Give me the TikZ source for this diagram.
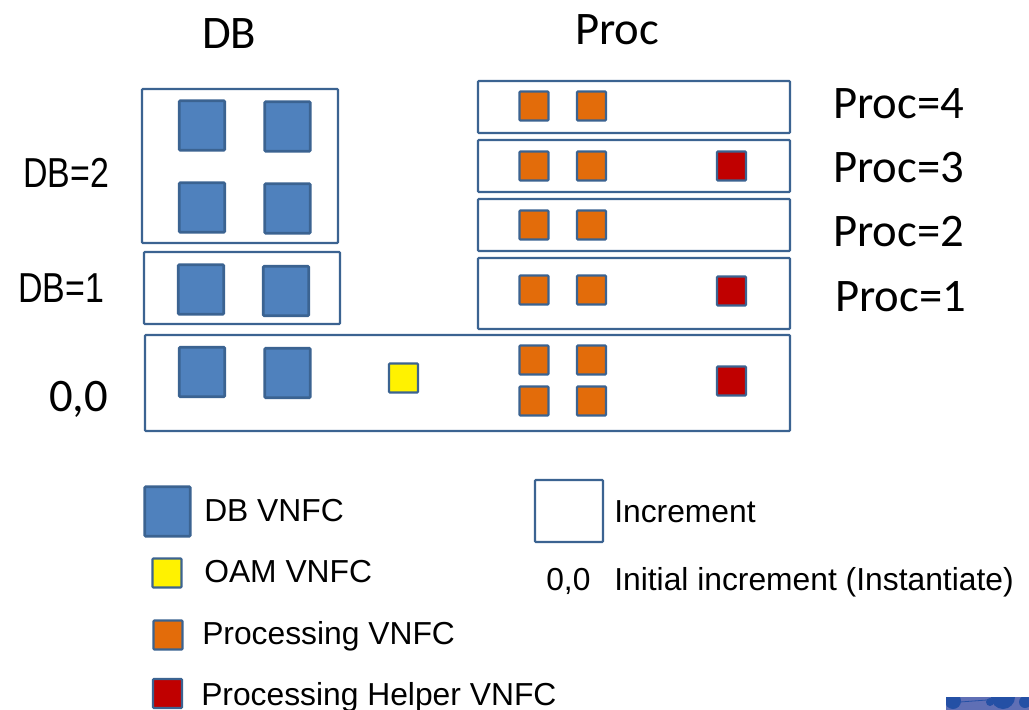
\documentclass[tikz,border=0pt]{standalone}
\usepackage{graphicx}
\usepackage{fontspec}
\setmainfont{Liberation Sans}
\newfontfamily\carl{Carlito}
\definecolor{edge}{HTML}{3B6391}
\definecolor{dbfill}{HTML}{4F81BD}
\definecolor{procfill}{HTML}{E36C0A}
\definecolor{helpfill}{HTML}{C00000}
\definecolor{logo}{HTML}{5F6FB5}
\definecolor{logodark}{HTML}{2450A5}
\tikzset{
 x=0.75pt,y=-0.75pt,
 sq/.style={draw=edge,line width=1.9pt,rounded corners=0.6pt,inner sep=0pt,outer sep=0pt},
 incr/.style={sq,line width=1.6pt,fill=white},
 db/.style={sq,fill=dbfill,minimum width=45.5*0.75pt,minimum height=49.5*0.75pt},
 oam/.style={sq,line width=1.6pt,fill=yellow,minimum width=29*0.75pt,minimum height=29*0.75pt},
 proc/.style={sq,line width=1.6pt,fill=procfill,minimum width=29*0.75pt,minimum height=29*0.75pt},
 help/.style={sq,line width=1.6pt,fill=helpfill,minimum width=29*0.75pt,minimum height=29*0.75pt},
 big/.style={inner sep=0pt,font=\carl\fontsize{35}{38}\selectfont,anchor=base west},
 mid/.style={inner sep=0pt,font=\fontsize{31.4}{34}\selectfont,anchor=base west},
 small/.style={inner sep=0pt,font=\fontsize{23.85}{26}\selectfont,anchor=base west},
}
\newcommand{\incbox}[5]{\node[incr,minimum width=(#4-#2)*0.75pt,minimum height=(#5-#3)*0.75pt] (#1) at ({(#2+#4)/2},{(#3+#5)/2}) {};}
\begin{document}
\begin{tikzpicture}
\useasboundingbox (0,0) rectangle (1029,710);
% increments
\incbox{inctwo}{142}{89}{338}{243}
\incbox{incone}{144}{252}{340}{324}
\incbox{pfour}{478}{81}{790}{133}
\incbox{pthree}{478}{140}{790}{192}
\incbox{ptwo}{478}{199}{790}{251}
\incbox{pone}{478}{258}{790}{329}
\incbox{zero}{145}{335}{790}{431}
% DB
\node[db] (d1) at (202,125.5) {};
\node[db] (d2) at (287.5,126.5) {};
\node[db] (d3) at (202,207.5) {};
\node[db] (d4) at (287.5,208.5) {};
\node[db] (d5) at (201,289.5) {};
\node[db] (d6) at (286,291) {};
\node[db] (d7) at (202,372) {};
\node[db] (d8) at (287.5,373) {};
\node[oam] (o1) at (403.5,378) {};
% Proc
\node[proc] (p1) at (534,106) {};
\node[proc] (p2) at (591.5,106) {};
\node[proc] (p3) at (534,166) {};
\node[proc] (p4) at (591.5,166) {};
\node[proc] (p5) at (534,225) {};
\node[proc] (p6) at (591.5,225) {};
\node[proc] (p7) at (534,290) {};
\node[proc] (p8) at (591.5,290) {};
\node[proc] (p9) at (534,360) {};
\node[proc] (p10) at (591.5,360) {};
\node[proc] (p11) at (534,401) {};
\node[proc] (p12) at (591.5,401) {};
\node[help] (h1) at (731.5,166) {};
\node[help] (h2) at (731.5,291) {};
\node[help] (h3) at (731.5,381) {};
% legend
\node[db] (ldb) at (167.5,511.5) {};
\node[oam] (loam) at (167,573) {};
\node[proc] (lproc) at (168,635) {};
\node[help] (lhelp) at (167.5,693.5) {};
\node[incr,minimum width=68*0.75pt,minimum height=62*0.75pt] (linc) at (569,511) {};
% labels
\node[big] (tdb) at (202,48.5) {DB};
\node[big] (tproc) at (575,44.5) {Proc};
\node[big] (l4) at (833,118.5) {Proc=4};
\node[big] (l3) at (833,182) {Proc=3};
\node[big] (l2) at (833,246) {Proc=2};
\node[big] (l1) at (835,311) {Proc=1};
\node[mid] (ldbtwo) at (23,187) {\scalebox{0.81}[1]{DB=2}};
\node[mid] (ldbone) at (18,302) {\scalebox{0.81}[1]{DB=1}};
\node[big] (lzero) at (49,411) {0,0};
\node[small] (tdbv) at (204,521) {DB VNFC};
\node[small] (toam) at (204,582) {OAM VNFC};
\node[small] (tpr) at (202,644) {Processing VNFC};
\node[small] (thp) at (201,705) {Processing Helper VNFC};
\node[small] (tinc) at (614,522) {Increment};
\node[small] (t00) at (546,590) {0,0};
\node[small] (tini) at (614,590) {Initial increment (Instantiate)};
% logo fragment
\begin{scope}
\clip (946,697) rectangle (1029,710);
\fill[logo] (946,697) rectangle (1029,710);
\fill[logodark] (953,701) circle (8);
\fill[logodark] (1003,697) circle (12);
\fill[logodark] (1025,702) circle (6);
\fill[logodark] (990,702) circle (4);
\draw[logodark,line width=0.6pt] (960,702) -- (987,700);
\end{scope}
\end{tikzpicture}
\end{document}
